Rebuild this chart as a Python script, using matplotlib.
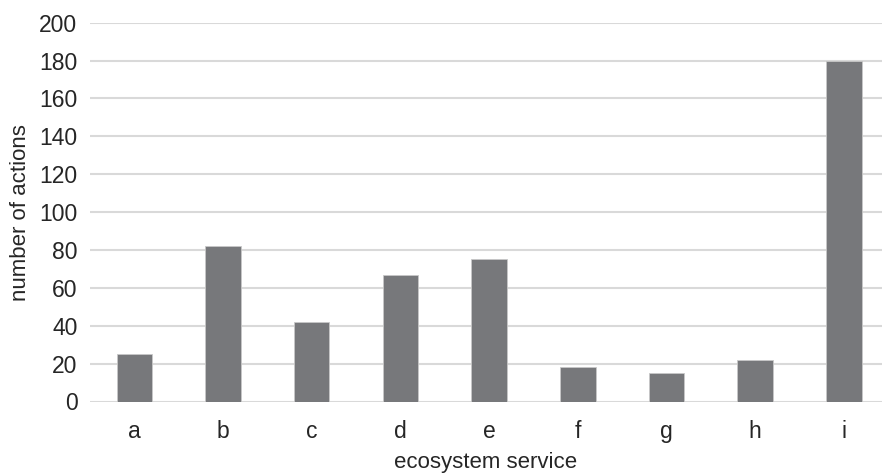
import matplotlib.pyplot as plt
import numpy as np

plt.rcParams['font.family'] = ['Liberation Sans', 'DejaVu Sans']

services = ['a', 'b', 'c', 'd', 'e', 'f', 'g', 'h', 'i']
actions = [25, 82, 42, 67, 75, 18, 15, 22, 180]
yticks = [0, 20, 40, 60, 80, 100, 120, 140, 160, 180, 200]

W, H = 882, 473
fig = plt.figure(figsize=(W / 100, H / 100), dpi=100)
ax = fig.add_axes([90 / W, 1 - 401.5 / H, (882 - 90) / W, (401.5 - 22.7) / H])

x = np.arange(len(services))
ax.bar(x, actions, width=0.4, color='#77787b', edgecolor='#c8c8c8', linewidth=0.6, zorder=3)

ax.set_xlim(-0.5, 8.43)
ax.set_ylim(0, 200)
ax.set_yticks(yticks)
ax.set_xticks(x)
ax.set_xticklabels(services)
ax.yaxis.grid(True, color='#d9d9d9', linewidth=1.5, zorder=0)
ax.set_axisbelow(True)
for s in ax.spines.values():
    s.set_visible(False)
ax.tick_params(axis='both', length=0, labelsize=16.5, colors='#262626')
ax.tick_params(axis='y', pad=9)
ax.tick_params(axis='x', pad=13)

ax.set_ylabel('number of actions', fontsize=16, color='#262626', labelpad=6)
ax.set_xlabel('ecosystem service', fontsize=16, color='#262626', labelpad=6.5)

fig.savefig('out.png', dpi=100)
